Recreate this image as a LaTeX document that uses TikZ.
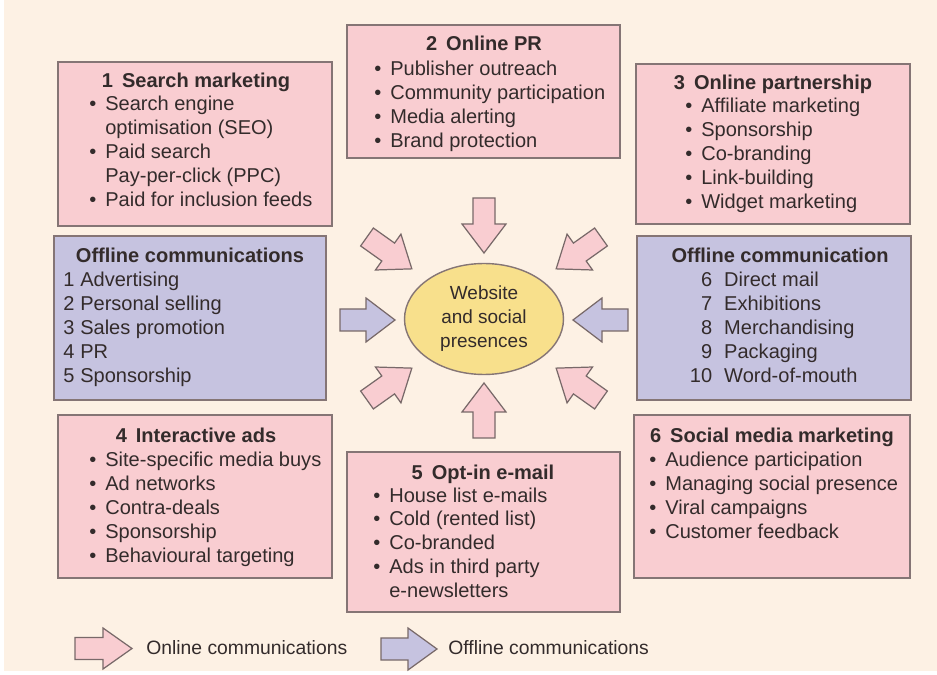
\documentclass[tikz,border=0pt]{standalone}
\usepackage{fontspec}
\setmainfont{Liberation Sans}
\usetikzlibrary{shapes.geometric,fit}
\definecolor{bg}{HTML}{FDF1E4}
\definecolor{pinkf}{HTML}{F9CDD1}
\definecolor{bluef}{HTML}{C6C3E0}
\definecolor{yel}{HTML}{F8E08C}
\definecolor{edgec}{HTML}{857575}
\definecolor{txt}{HTML}{332B2B}
\newcommand\bl{\makebox[0.32cm][l]{\textbullet}}
\newcommand\nb{\hspace*{0.32cm}}
\newcommand\fatarrow[6]{%
  \begin{scope}[shift={#1},rotate=#2]
    \draw[arrowline,fill=#3] (0,-11)--({#4-#5},-11)--({#4-#5},-#6)--(#4,0)--({#4-#5},#6)--({#4-#5},11)--(0,11)--cycle;
  \end{scope}}
\tikzset{
  basefont/.style={font=\fontsize{11.4}{13.66}\selectfont, text=txt, inner sep=0pt},
  pinkbox/.style={draw=edgec, fill=pinkf, line width=0.8pt, inner sep=0pt},
  bluebox/.style={draw=edgec, fill=bluef, line width=0.8pt, inner sep=0pt},
  boxtitle/.style={basefont, font=\fontsize{11.4}{13.66}\selectfont\bfseries, anchor=base},
  itemlist/.style={basefont, anchor=base west},
  legendtext/.style={basefont, font=\fontsize{11}{13.2}\selectfont, anchor=base west},
  arrowline/.style={draw=edgec!90!black, line width=0.7pt, line join=miter},
}
\begin{document}
\begin{tikzpicture}[x=0.02cm,y=-0.02cm]
\useasboundingbox (0,0) rectangle (937,675);
\fill[white] (0,0) rectangle (937,675);
\fill[bg] (4,0) rectangle (937,671);

% boxes
\node[pinkbox, fit={(58,62) (332,226)}] (b1) {};
\node[pinkbox, fit={(347,25) (620,158)}] (b2) {};
\node[pinkbox, fit={(636,64) (910,224)}] (b3) {};
\node[bluebox, fit={(54,236) (326,400)}] (offl) {};
\node[bluebox, fit={(637,236) (911,400)}] (offr) {};
\node[pinkbox, fit={(58,415) (332,578)}] (b4) {};
\node[pinkbox, fit={(347,452) (620,612)}] (b5) {};
\node[pinkbox, fit={(634,415) (910,578)}] (b6) {};

% titles
\node[boxtitle] (t1) at (196,88) {1\hspace{0.45em}Search marketing};
\node[boxtitle] (t2) at (484,51) {2\hspace{0.45em}Online PR};
\node[boxtitle] (t3) at (773,90) {3\hspace{0.45em}Online partnership};
\node[boxtitle] (tol) at (190,263) {Offline communications};
\node[boxtitle] (tor) at (780,263) {Offline communication};
\node[boxtitle] (t4) at (196,443) {4\hspace{0.45em}Interactive ads};
\node[boxtitle] (t5) at (483,480) {5\hspace{0.45em}Opt-in e-mail};
\node[boxtitle] (t6) at (772,443) {6\hspace{0.45em}Social media marketing};

% lists
\node[itemlist] (l1) at (89,111) {\begin{tabular}[t]{@{}l@{}}
\bl Search engine\\ \nb optimisation (SEO)\\ \bl Paid search\\ \nb Pay-per-click (PPC)\\ \bl Paid for inclusion feeds\end{tabular}};
\node[itemlist] (l2) at (374,76) {\begin{tabular}[t]{@{}l@{}}
\bl Publisher outreach\\ \bl Community participation\\ \bl Media alerting\\ \bl Brand protection\end{tabular}};
\node[itemlist] (l3) at (685,113) {\begin{tabular}[t]{@{}l@{}}
\bl Affiliate marketing\\ \bl Sponsorship\\ \bl Co-branding\\ \bl Link-building\\ \bl Widget marketing\end{tabular}};
\node[itemlist] (lol) at (63,287) {\begin{tabular}[t]{@{}l@{\hspace{0.116cm}}l@{}}
1 & Advertising\\ 2 & Personal selling\\ 3 & Sales promotion\\ 4 & PR\\ 5 & Sponsorship\end{tabular}};
\node[itemlist] (lor) at (689.6,287) {\begin{tabular}[t]{@{}r@{\hspace{0.24cm}}l@{}}
6 & Direct mail\\ 7 & Exhibitions\\ 8 & Merchandising\\ 9 & Packaging\\ 10 & Word-of-mouth\end{tabular}};
\node[itemlist] (l4) at (89,467) {\begin{tabular}[t]{@{}l@{}}
\bl Site-specific media buys\\ \bl Ad networks\\ \bl Contra-deals\\ \bl Sponsorship\\ \bl Behavioural targeting\end{tabular}};
\node[itemlist] (l5) at (373,502) {\begin{tabular}[t]{@{}l@{}}
\bl House list e-mails\\ \bl Cold (rented list)\\ \bl Co-branded\\ \bl Ads in third party\\ \nb e-newsletters\end{tabular}};
\node[itemlist] (l6) at (649,467) {\begin{tabular}[t]{@{}l@{}}
\bl Audience participation\\ \bl Managing social presence\\ \bl Viral campaigns\\ \bl Customer feedback\end{tabular}};

% centre
\node[ellipse, draw=edgec, fill=yel, line width=0.8pt, minimum width=3.18cm, minimum height=2.22cm,
  basefont, font=\fontsize{10.8}{13.66}\selectfont, align=center] (web) at (484,319) {Website\\and social\\presences};

% arrows towards the centre
\fatarrow{(484,198)}{-90}{pinkf}{55}{29}{22}
\fatarrow{(484,438)}{90}{pinkf}{55}{29}{22}
\fatarrow{(340,320)}{0}{bluef}{55}{29}{22}
\fatarrow{(628,320)}{180}{bluef}{55}{29}{22}
\fatarrow{(367,237)}{-35.4}{pinkf}{55}{29}{22}
\fatarrow{(601,237)}{-144.6}{pinkf}{55}{29}{22}
\fatarrow{(367,400)}{35.4}{pinkf}{55}{29}{22}
\fatarrow{(601,400)}{144.6}{pinkf}{55}{29}{22}

% legend
\fatarrow{(75,648.5)}{0}{pinkf}{57}{29}{20.5}
\fatarrow{(381,649)}{0}{bluef}{56}{29}{21}
\node[legendtext] (lg1) at (146,654) {Online communications};
\node[legendtext] (lg2) at (448,654) {Offline communications};
\end{tikzpicture}
\end{document}
